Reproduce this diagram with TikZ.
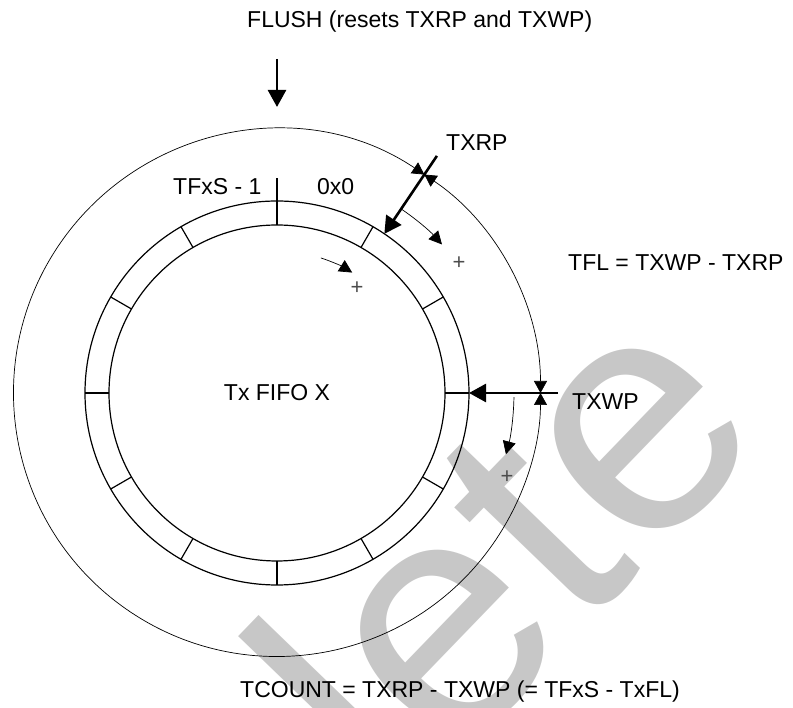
\documentclass[tikz,border=0pt]{standalone}
\usepackage{fontspec}
\setmainfont{Liberation Sans}
\usetikzlibrary{arrows.meta}
\definecolor{FifoInk}{gray}{0}
\definecolor{FifoMark}{gray}{0.3}
\definecolor{FifoStamp}{gray}{0.78}
\tikzset{
    fifo/diagram/.style={
        font=\fontsize{23}{27}\selectfont,
        x=1pt, y=1pt,
        line join=miter
    },
    fifo/track/.style={draw=FifoInk, line width=0.7pt},
    fifo/ring/.style={draw=FifoInk, line width=1.2pt},
    fifo/slot/.style={draw=FifoInk, line width=1.2pt},
    fifo/span/.style={
        draw=FifoInk, line width=0.7pt,
        {Triangle[length=12pt, width=13pt]}-{Triangle[length=12pt, width=13pt]}
    },
    fifo/pointer/.style={
        draw=FifoInk, line width=2.6pt,
        -{Triangle[length=17pt, width=18pt]}
    },
    fifo/advance/.style={
        draw=FifoInk, line width=0.7pt,
        -{Triangle[length=13pt, width=13pt]}
    },
    fifo/label/.style={anchor=west, inner sep=0pt},
    fifo/plus/.style={inner sep=0pt, text=FifoMark, font=\fontsize{22}{24}\selectfont},
    fifo/stamp/.style={
        text=FifoStamp, inner sep=0pt, anchor=base east,
        rotate=46, font=\fontsize{335}{335}\selectfont
    }
}

\begin{document}
\begin{tikzpicture}[fifo/diagram]
    \useasboundingbox (-277,-315) rectangle (516,393);
    \begin{scope}
        \clip (-277,-315) rectangle (516,393);
        \node[fifo/stamp] (stamp) at (496,-40) {Obsolete};
    \end{scope}

    % buffer ring with its slots
    \draw[fifo/ring] (0,0) circle[radius=192];
    \draw[fifo/ring] (0,0) circle[radius=168];
    \foreach \a in {0,30,...,330}
        \draw[fifo/slot] (\a:168) -- (\a:192);
    \draw[fifo/slot] (90:192) -- (90:215);
    \node (fifo) at (0,0) {Tx FIFO X};
    \node[fifo/label] (last) at (-104,206) {TFxS - 1};
    \node[fifo/label] (first) at (40,206) {0x0};

    % pointers
    \coordinate (rp-tail) at (56:286);
    \coordinate (rp-head) at (56:192);
    \coordinate (rp-cross) at (56:263.5);
    \coordinate (wp-tail) at (281,0);
    \coordinate (wp-head) at (192,0);
    \coordinate (wp-cross) at (0:263.5);
    \draw[fifo/pointer] (rp-tail) -- (rp-head);
    \draw[fifo/pointer] (wp-tail) -- (wp-head);
    \node[fifo/label] (txrp) at (169,250) {TXRP};
    \node[fifo/label] (txwp) at (295,-9) {TXWP};

    % fill level and count
    \draw[fifo/span] (wp-cross) arc[start angle=0, end angle=56, radius=263.5];
    \draw[fifo/span] (rp-cross) arc[start angle=56, end angle=360, radius=263.5];
    \node[fifo/label] (tfl) at (291,130) {TFL = TXWP - TXRP};
    \node[fifo/label] (tcount) at (-37,-299) {TCOUNT = TXRP - TXWP (= TFxS - TxFL)};

    % direction of increment
    \coordinate (rp-step) at (56:222);
    \coordinate (ring-step) at (72:142);
    \coordinate (wp-step) at (-1:237);
    \draw[fifo/advance] (rp-step) arc[start angle=56, end angle=42, radius=222];
    \draw[fifo/advance] (ring-step) arc[start angle=72, end angle=58, radius=142];
    \draw[fifo/advance] (wp-step) arc[start angle=-1, end angle=-15, radius=237];
    \node[fifo/plus] (rp-plus) at (182,130) {+};
    \node[fifo/plus] (ring-plus) at (80,105) {+};
    \node[fifo/plus] (wp-plus) at (230,-84) {+};

    % flush
    \coordinate (flush-tail) at (0,334);
    \coordinate (flush-head) at (0,286);
    \draw[fifo/pointer] (flush-tail) -- (flush-head);
    \node[fifo/label] (flush) at (-30,371) {FLUSH (resets TXRP and TXWP)};
\end{tikzpicture}
\end{document}
